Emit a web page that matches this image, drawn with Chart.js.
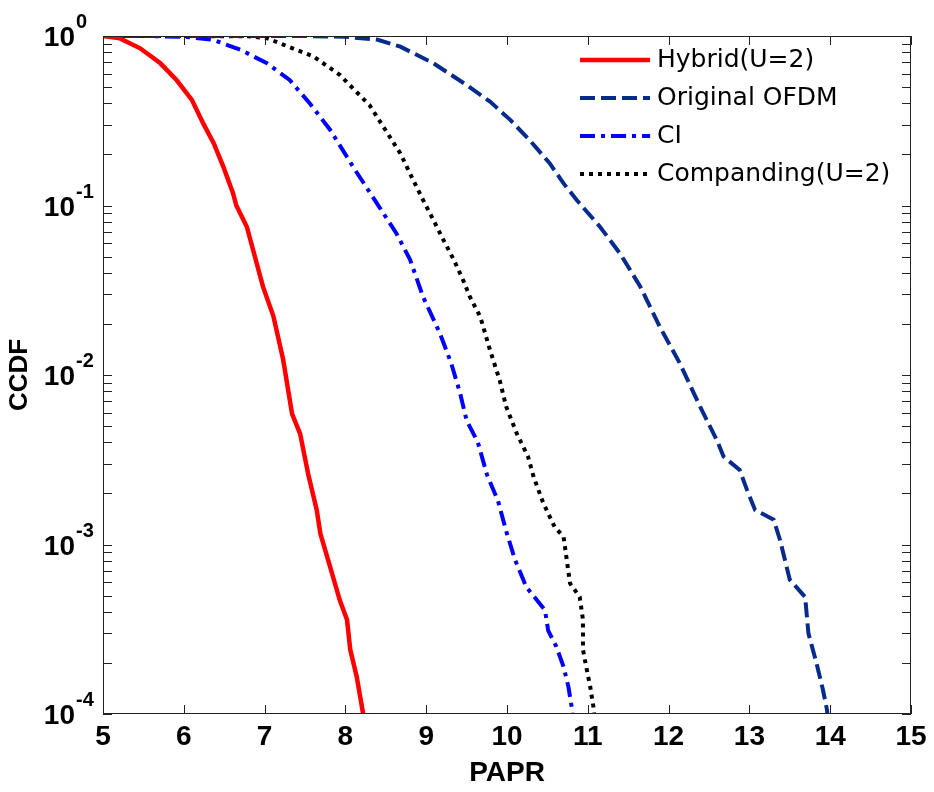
<!DOCTYPE html>
<html>
<head>
<meta charset="utf-8">
<script src="https://cdn.jsdelivr.net/npm/chart.js@4.4.1/dist/chart.umd.min.js"></script>
<style>
  html, body { margin: 0; padding: 0; background: #fff; }
  #wrap { width: 934px; height: 792px; }
</style>
</head>
<body>
<div id="wrap"><canvas id="chart" width="934" height="792"></canvas></div>
<script>
// Values (PAPR in dB, CCDF)
const hybridX = [5.0, 5.21, 5.46, 5.71, 5.91, 6.10, 6.24, 6.37, 6.49, 6.61, 6.65, 6.78, 6.98, 7.11, 7.23, 7.34, 7.44, 7.54, 7.645, 7.69, 7.81, 7.93, 8.02, 8.06, 8.14, 8.22, 8.24];
const hybridY = [1.0, 0.968, 0.846, 0.69, 0.55, 0.42, 0.305, 0.233, 0.169, 0.118, 0.1, 0.075, 0.0332, 0.0221, 0.0123, 0.0059, 0.0045, 0.0026, 0.0016, 0.00116, 0.00074, 0.00047, 0.00036, 0.00024, 0.000166, 0.0001, 0.000095];

const ofdmX = [5.0, 6.5, 7.5, 8.0, 8.4, 8.68, 9.09, 9.50, 9.79, 10.04, 10.28, 10.53, 10.70, 10.86, 11.15, 11.40, 11.65, 11.89, 12.14, 12.39, 12.60, 12.68, 12.88, 12.97, 13.07, 13.30, 13.38, 13.44, 13.50, 13.69, 13.73, 13.83, 13.91, 13.96, 13.97];
const ofdmY = [1, 1, 1, 0.99, 0.95, 0.865, 0.69, 0.514, 0.41, 0.32, 0.243, 0.177, 0.135, 0.108, 0.075, 0.052, 0.0332, 0.0193, 0.0117, 0.0065, 0.0041, 0.0033, 0.00275, 0.0021, 0.0016, 0.0014, 0.00106, 0.00081, 0.00062, 0.00049, 0.0003, 0.0002, 0.000139, 0.000106, 0.000095];

const ciX = [5.0, 5.5, 6.0, 6.36, 6.70, 7.03, 7.31, 7.56, 7.81, 8.12, 8.39, 8.63, 8.80, 8.96, 9.17, 9.31, 9.42, 9.50, 9.64, 9.75, 9.89, 9.99, 10.10, 10.24, 10.47, 10.51, 10.61, 10.70, 10.76, 10.80, 10.81];
const ciY = [1, 1, 0.99, 0.95, 0.83, 0.69, 0.55, 0.40, 0.28, 0.162, 0.103, 0.0686, 0.048, 0.029, 0.0176, 0.0117, 0.0078, 0.0054, 0.0040, 0.0026, 0.0018, 0.0012, 0.00081, 0.00056, 0.00041, 0.00031, 0.00025, 0.00019, 0.000145, 0.00011, 0.000095];

const compX = [5.0, 6.0, 6.8, 7.03, 7.31, 7.6, 7.93, 8.3, 8.68, 8.84, 8.96, 9.09, 9.21, 9.34, 9.46, 9.54, 9.67, 9.79, 9.91, 9.99, 10.12, 10.26, 10.33, 10.45, 10.59, 10.70, 10.74, 10.78, 10.90, 10.94, 10.94, 10.99, 11.03, 11.07, 11.08];
const compY = [1, 1, 0.995, 0.97, 0.86, 0.76, 0.59, 0.39, 0.203, 0.141, 0.108, 0.082, 0.063, 0.048, 0.036, 0.029, 0.022, 0.014, 0.0093, 0.0065, 0.00453, 0.0033, 0.0025, 0.00175, 0.00127, 0.00111, 0.00081, 0.00059, 0.00049, 0.00036, 0.00024, 0.00018, 0.000145, 0.00011, 0.000095];

const seriesLabels = ['Hybrid(U=2)', 'Original OFDM', 'CI', 'Companding(U=2)'];
const xTicks = [5, 6, 7, 8, 9, 10, 11, 12, 13, 14, 15];
const yDecades = [1, 0.1, 0.01, 0.001, 0.0001];

const pts = (xs, ys) => xs.map((x, i) => ({ x: x, y: ys[i] }));

// axes box, inward ticks, 10^n labels
const framePlugin = {
    id: 'frame',
    afterDatasetsDraw(chart) {
        const { ctx, chartArea: a, scales: { x, y } } = chart;
        ctx.save();
        ctx.strokeStyle = '#222';
        ctx.lineWidth = 1;
        ctx.setLineDash([]);
        ctx.strokeRect(a.left + 0.5, a.top + 0.5, a.right - a.left - 1, a.bottom - a.top - 1);

        ctx.beginPath();
        xTicks.forEach(v => {
            const px = Math.round(x.getPixelForValue(v)) + 0.5;
            ctx.moveTo(px, a.bottom); ctx.lineTo(px, a.bottom - 9);
            ctx.moveTo(px, a.top); ctx.lineTo(px, a.top + 9);
        });
        yDecades.forEach(d => {
            for (let m = 1; m < 10; m++) {
                const v = d * m;
                if (v > 1.0001) break;
                const py = Math.round(y.getPixelForValue(v)) + 0.5;
                ctx.moveTo(a.left, py); ctx.lineTo(a.left + 9, py);
                ctx.moveTo(a.right, py); ctx.lineTo(a.right - 9, py);
            }
        });
        ctx.stroke();

        // y tick labels as 10 with a raised exponent
        ctx.fillStyle = '#000';
        ctx.textBaseline = 'alphabetic';
        yDecades.forEach(d => {
            const py = y.getPixelForValue(d);
            const exp = String(Math.round(Math.log10(d)));
            ctx.font = 'bold 28px Arial, "Liberation Sans", sans-serif';
            ctx.textAlign = 'right';
            ctx.fillText('10', a.left - 28, py + 10);
            ctx.font = 'bold 20px Arial, "Liberation Sans", sans-serif';
            ctx.textAlign = 'left';
            ctx.fillText(exp, a.left - 27, py - 8);
        });

        // legend, top right inside the axes
        chart.data.datasets.forEach((ds, i) => {
            const ly = a.top + 24 + i * 38;
            ctx.setLineDash(ds.borderDash || []);
            ctx.strokeStyle = ds.borderColor;
            ctx.lineWidth = ds.borderWidth;
            ctx.lineCap = 'butt';
            ctx.beginPath();
            ctx.moveTo(a.right - 331, ly);
            ctx.lineTo(a.right - 261, ly);
            ctx.stroke();
            ctx.setLineDash([]);
            ctx.fillStyle = '#000';
            ctx.font = '25px "DejaVu Sans", sans-serif';
            ctx.textAlign = 'left';
            ctx.textBaseline = 'middle';
            ctx.fillText(ds.label, a.right - 254, ly);
        });
        ctx.restore();
    }
};

Chart.defaults.font.family = 'Arial, "Liberation Sans", sans-serif';
Chart.defaults.color = '#000';

new Chart(document.getElementById('chart'), {
    type: 'line',
    data: {
        datasets: [
            {
                label: seriesLabels[0],
                data: pts(hybridX, hybridY),
                borderColor: '#ff0000',
                borderWidth: 4.5,
                borderDash: []
            },
            {
                label: seriesLabels[1],
                data: pts(ofdmX, ofdmY),
                borderColor: '#062b8c',
                borderWidth: 4,
                borderDash: [15, 6]
            },
            {
                label: seriesLabels[2],
                data: pts(ciX, ciY),
                borderColor: '#0000ff',
                borderWidth: 4,
                borderDash: [15, 6, 4, 6]
            },
            {
                label: seriesLabels[3],
                data: pts(compX, compY),
                borderColor: '#000000',
                borderWidth: 4,
                borderDash: [4, 5]
            }
        ]
    },
    options: {
        responsive: false,
        animation: false,
        layout: { padding: { top: 36, right: 23, left: 0, bottom: 0 } },
        elements: {
            point: { radius: 0 },
            line: { tension: 0, borderCapStyle: 'butt', fill: false }
        },
        plugins: {
            legend: { display: false },
            tooltip: { enabled: false }
        },
        scales: {
            x: {
                type: 'linear',
                min: 5,
                max: 15,
                grid: { display: false, drawTicks: false },
                border: { display: false },
                ticks: {
                    stepSize: 1,
                    autoSkip: false,
                    maxRotation: 0,
                    padding: 6,
                    font: { size: 28, weight: 'bold' }
                },
                title: {
                    display: true,
                    text: 'PAPR',
                    padding: { top: 0, bottom: 2 },
                    font: { size: 28, weight: 'bold' }
                },
                afterFit: s => { s.height = 78; }
            },
            y: {
                type: 'logarithmic',
                min: 0.0001,
                max: 1,
                grid: { display: false, drawTicks: false },
                border: { display: false },
                ticks: { display: false },
                title: {
                    display: true,
                    text: 'CCDF',
                    padding: { top: 4, bottom: 0 },
                    font: { size: 26, weight: 'bold' }
                },
                afterFit: s => { s.width = 103; }
            }
        }
    },
    plugins: [framePlugin]
});
</script>
</body>
</html>
